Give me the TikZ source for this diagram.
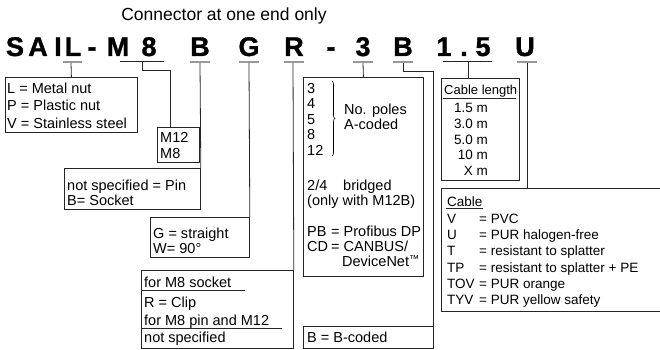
\documentclass[tikz,border=0pt]{standalone}
\usepackage{fontspec}
\setmainfont{Liberation Sans}
\newfontfamily\codefont{Liberation Sans Bold}[FakeBold=1.2]
\usetikzlibrary{decorations.pathreplacing}
\begin{document}
\begin{tikzpicture}[x=1pt,y=-1pt,
  code/.style={font=\fontsize{27}{27}\codefont, anchor=base, inner sep=0},
  txt/.style={font=\fontsize{14.5}{14.5}\selectfont, anchor=base west, inner sep=0},
  stxt/.style={font=\fontsize{13.5}{13.5}\selectfont, anchor=base west, inner sep=0},
  stxtr/.style={stxt, anchor=base east},
  box/.style={draw=black!85, line width=0.8pt, anchor=north west, inner sep=0},
  uline/.style={draw=black!40, line width=2pt},
  bline/.style={draw=black!85, line width=1pt},
  conn/.style={draw=black!85, line width=0.8pt},
  tline/.style={draw=black!85, line width=0.8pt},
]
\useasboundingbox (0,0) rectangle (660,350);

% title
\node[font=\fontsize{17.5}{17.5}\selectfont, anchor=base, inner sep=0] (title) at (224,21) {Connector at one end only};

% code letters
\node[code] (cS) at (15,56) {S};
\node[code] (cA) at (38,56) {A};
\node[code] (cI) at (58,56) {I};
\node[code] (cL) at (73,56) {L};
\node[code] (cD1) at (92,56) {-};
\node[code] (cM) at (118,56) {M};
\node[code] (c8) at (149,56) {8};
\node[code] (cB) at (200,56) {B};
\node[code] (cG) at (249,56) {G};
\node[code] (cR) at (294,56) {R};
\node[code] (cD2) at (331,56) {-};
\node[code] (c3) at (363,56) {3};
\node[code] (cB2) at (403,56) {B};
\node[code] (c1) at (444,56) {1};
\node[code] (cP) at (464,56) {.};
\node[code] (c5) at (483,56) {5};
\node[code] (cU) at (525,56) {U};

% underlines
\draw[uline] (63,62) -- (82,62);
\draw[bline] (120,62) -- (164,62);
\draw[uline] (190,62) -- (210,62);
\draw[uline] (239,62) -- (259,62);
\draw[uline] (284,62) -- (304,62);
\draw[uline] (353,62) -- (373,62);
\draw[uline] (393,62) -- (413,62);
\draw[bline] (443,62) -- (492,62);
\draw[uline] (517,62) -- (537,62);
\coordinate (uL) at (71,63);
\coordinate (uM) at (142,62);
\coordinate (uB) at (200,63);
\coordinate (uG) at (249,63);
\coordinate (uR) at (293,63);
\coordinate (u3) at (363,63);
\coordinate (uB2) at (403,63);
\coordinate (u15) at (468,62);
\coordinate (uU) at (527,63);

% boxes
\node[box, minimum width=132pt, minimum height=55pt] (lbox) at (5,77) {};
\node[box, minimum width=42pt, minimum height=35pt] (mbox) at (157,127) {};
\node[box, minimum width=136pt, minimum height=41pt] (bbox) at (64,168) {};
\node[box, minimum width=99pt, minimum height=40pt] (gbox) at (150,217) {};
\node[box, minimum width=152pt, minimum height=78pt] (rbox) at (141,270) {};
\node[box, minimum width=120pt, minimum height=199pt] (pbox) at (303,77) {};
\node[box, minimum width=130pt, minimum height=22pt] (bcbox) at (303,326) {};
\node[box, minimum width=78pt, minimum height=102pt] (lenbox) at (441,78) {};
\node[box, minimum width=222pt, minimum height=123pt] (cabbox) at (441,188) {};

% connectors
\draw[conn] (uL) -- (lbox.north);
\draw[conn] (uM) -- ++(0,8) -| ([xshift=13pt]mbox.north west);
\draw[conn] (uB) -- (bbox.north east);
\draw[conn] (uG) -- (gbox.north east);
\draw[conn] (uR) -- (rbox.north east);
\draw[conn] (u3) -- (pbox.north);
\draw[conn] (uB2) -- ++(0,8) -| (bcbox.north east);
\draw[conn] (u15) -- ([xshift=27pt]lenbox.north west);
\draw[conn] (uU) -- ([xshift=86pt]cabbox.north west);

% L box
\node[txt] (l1) at (7,93) {L = Metal nut};
\node[txt] (l2) at (7,110.5) {P = Plastic nut};
\node[txt] (l3) at (7,128) {V = Stainless steel};

% M box
\node[txt] (m1) at (160,142) {M12};
\node[txt] (m2) at (160,158) {M8};

% B box
\node[txt] (b1) at (67,190) {not specified = Pin};
\node[txt] (b2) at (67,205) {B= Socket};

% G box
\node[txt] (g1) at (153,238) {G = straight};
\node[txt] (g2) at (153,253) {W= 90°};

% R box
\node[txt] (r1) at (144,287) {for M8 socket};
\draw[tline] (141,290) -- (245,290);
\node[txt] (r2) at (144,307) {R = Clip};
\node[txt] (r3) at (144,325) {for M8 pin and M12};
\draw[tline] (141,328) -- (282,328);
\node[txt] (r4) at (144,342) {not specified};

% poles box
\node[txt] (p1) at (307,93) {3};
\node[txt] (p2) at (307,108.5) {4};
\node[txt] (p3) at (307,124) {5};
\node[txt] (p4) at (307,139.5) {8};
\node[txt] (p5) at (307,155) {12};
\draw[line width=0.6pt, decorate, decoration={brace, amplitude=3pt}] (332,81) -- (332,156);
\node[txt] (p6) at (344,114) {No. poles};
\node[txt] (p7) at (344,129) {A-coded};
\node[txt] (p8) at (307,190) {2/4};
\node[txt] (p9) at (343,190) {bridged};
\node[txt] (p10) at (307,205) {(only with M12B)};
\node[txt] (p11) at (307,236) {PB};
\node[txt] (p12) at (331,236) {= Profibus DP};
\node[txt] (p13) at (307,251) {CD};
\node[txt] (p14) at (331,251) {= CANBUS/};
\node[txt] (p15) at (342,266) {DeviceNet\raisebox{3.5pt}{\fontsize{10}{10}\selectfont ™}};

% B-coded box
\node[txt] (bc1) at (307,342) {B = B-coded};

% length box
\node[stxt, font=\fontsize{13}{13}\selectfont] (n0) at (444,95) {Cable length};
\draw[tline] (443,98) -- (516,98);
\node[stxtr] (n1) at (488,113) {1.5 m};
\node[stxtr] (n2) at (488,128.5) {3.0 m};
\node[stxtr] (n3) at (488,144) {5.0 m};
\node[stxtr] (n4) at (488,159.5) {10 m};
\node[stxtr] (n5) at (488,175) {X m};

% cable box
\node[stxt] (k0) at (447,206) {Cable};
\draw[tline] (446,208.5) -- (483,208.5);
\node[stxt] (k1) at (447,223) {V};
\node[stxt] (k1e) at (479,223) {= PVC};
\node[stxt] (k2) at (447,239) {U};
\node[stxt] (k2e) at (479,239) {= PUR halogen-free};
\node[stxt] (k3) at (447,255.5) {T};
\node[stxt] (k3e) at (479,255.5) {= resistant to splatter};
\node[stxt] (k4) at (447,272) {TP};
\node[stxt] (k4e) at (479,272) {= resistant to splatter + PE};
\node[stxt] (k5) at (447,288) {TOV};
\node[stxt] (k5e) at (479,288) {= PUR orange};
\node[stxt] (k6) at (447,304) {TYV};
\node[stxt] (k6e) at (479,304) {= PUR yellow safety};
\end{tikzpicture}
\end{document}
